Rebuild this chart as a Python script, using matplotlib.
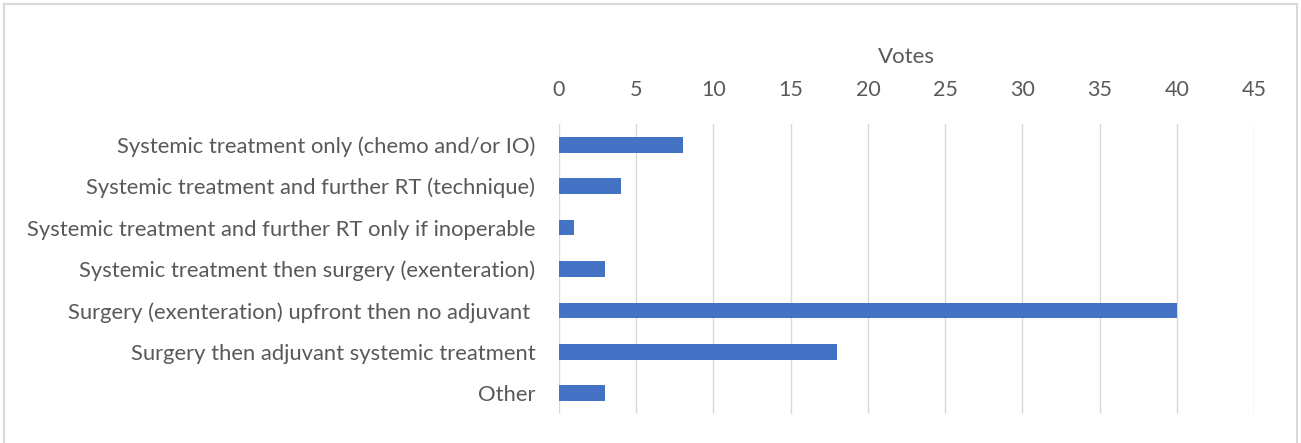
import matplotlib
matplotlib.use("Agg")
import matplotlib.pyplot as plt
from matplotlib.patches import Rectangle

# data
categories = [
    "Systemic treatment only (chemo and/or IO)",
    "Systemic treatment and further RT (technique)",
    "Systemic treatment and further RT only if inoperable",
    "Systemic treatment then surgery (exenteration)",
    "Surgery (exenteration) upfront then no adjuvant ",
    "Surgery then adjuvant systemic treatment",
    "Other",
]
votes = [8, 4, 1, 3, 40, 18, 3]
x_ticks = [0, 5, 10, 15, 20, 25, 30, 35, 40, 45]

plt.rcParams['font.family'] = ['Lato', 'DejaVu Sans']
text_color = '#595959'

fig = plt.figure(figsize=(13.01, 4.43), dpi=100)
ax = fig.add_axes([559 / 1301, 1 - 414 / 443, (1254 - 559) / 1301, (414 - 124) / 443])

y_pos = list(range(len(categories)))
ax.barh(y_pos, votes, height=0.38, color='#4472C4', zorder=3)

ax.set_xlim(0, 45)
ax.set_ylim(len(categories) - 0.5, -0.5)
ax.set_xticks(x_ticks)
ax.set_yticks(y_pos)
ax.set_yticklabels(categories)
ax.xaxis.tick_top()
ax.xaxis.set_label_position('top')
ax.set_xlabel("Votes", fontsize=16, color=text_color, labelpad=12)
ax.tick_params(axis='x', length=0, pad=17.5, labelsize=15.5, labelcolor=text_color)
ax.tick_params(axis='y', length=0, pad=17, labelsize=15.8, labelcolor=text_color)
ax.grid(axis='x', color='#d9d9d9', linewidth=1, zorder=0)
for s in ax.spines.values():
    s.set_visible(False)

# light border round the chart (runs off the bottom edge)
fig.patches.append(Rectangle((4 / 1301, -0.05), 1293 / 1301, 1.05 - 4 / 443,
                             transform=fig.transFigure, fill=False,
                             edgecolor='#d9d9d9', linewidth=1.5))

fig.savefig("out.png", dpi=100)
